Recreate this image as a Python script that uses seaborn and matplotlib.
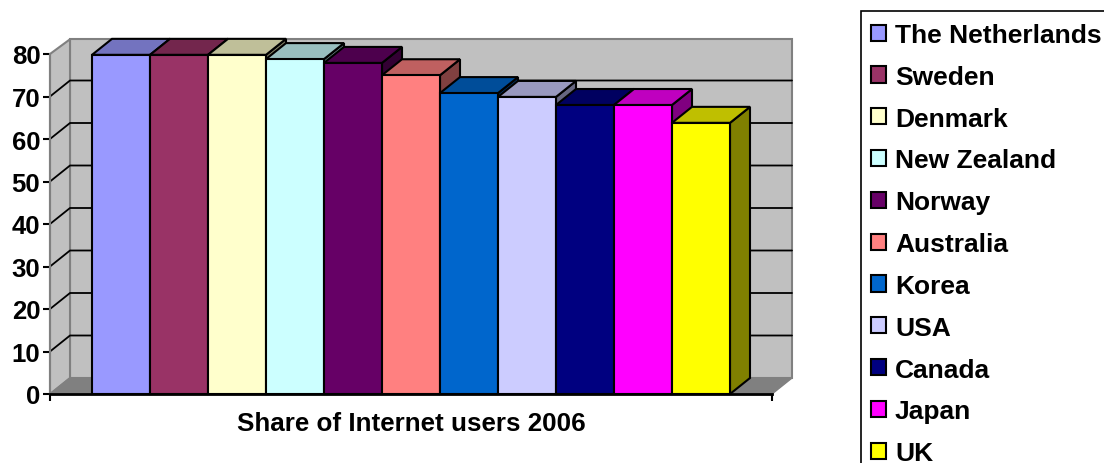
# -*- coding: utf-8 -*-
"""Share of Internet users 2006 - Excel style 3D column chart, drawn with seaborn bars"""
import matplotlib
matplotlib.use("Agg")
import matplotlib.pyplot as plt
from matplotlib.colors import to_rgb
from matplotlib.patches import Polygon, Rectangle
import pandas as pd
import seaborn as sns

countries = ["The Netherlands", "Sweden", "Denmark", "New Zealand", "Norway", "Australia",
             "Korea", "USA", "Canada", "Japan", "UK"]
share = [79.8, 79.8, 79.8, 78.8, 77.9, 75.0, 70.8, 69.9, 68.0, 68.0, 63.8]
colors = ["#9999FF", "#993366", "#FFFFCC", "#CCFFFF", "#660066", "#FF8080",
          "#0066CC", "#CCCCFF", "#000080", "#FF00FF", "#FFFF00"]
y_ticks = [0, 10, 20, 30, 40, 50, 60, 70, 80]
x_title = "Share of Internet users 2006"

sns.set_theme(style="white")
plt.rcParams["font.family"] = ["Liberation Sans", "DejaVu Sans"]
W, H = 1104, 464
WALL, FLOOR = "#C0C0C0", "#808080"

fig = plt.figure(figsize=(W / 100, H / 100), dpi=100)
ax = fig.add_axes([50 / W, (H - 395) / H, 722 / W, 340 / H])

df = pd.DataFrame({"country": countries, "share": share})
sns.barplot(data=df, x="country", y="share", hue="country", palette=colors, dodge=False,
            width=1.0, saturation=1, edgecolor="black", linewidth=1.5, legend=True, ax=ax)

x0, x1 = -0.5 - 42 / 58, 10.5 + 42 / 58
ax.set_xlim(x0, x1)
ax.set_ylim(0, 80)
# depth of the fake 3D box, in data units (20 px across, 16 px up)
dx, dy = 20 / 58, 16 / 4.25
wall_top = 79.7

# walls and floor
ax.add_patch(Polygon([(x0 + dx, dy), (x1 + dx, dy), (x1 + dx, wall_top + dy), (x0 + dx, wall_top + dy)],
                     fc=WALL, ec=FLOOR, lw=1.5, clip_on=False, zorder=0.1))
ax.add_patch(Polygon([(x0, 0), (x0 + dx, dy), (x0 + dx, wall_top + dy), (x0, 80)],
                     fc=WALL, ec=FLOOR, lw=1.5, clip_on=False, zorder=0.2))
ax.add_patch(Polygon([(x0, 0), (x1, 0), (x1 + dx, dy), (x0 + dx, dy)],
                     fc=FLOOR, ec=FLOOR, lw=1, clip_on=False, zorder=0.2))
for t in y_ticks[1:-1]:
    ax.plot([x0, x0 + dx, x1 + dx], [t, t + dy, t + dy], color="black", lw=1.3,
            clip_on=False, zorder=0.3)

# side and top of each column, painted left to right
for i, cont in enumerate(ax.containers):
    bar = cont[0]
    left, right, top = bar.get_x(), bar.get_x() + bar.get_width(), bar.get_height()
    rgb = to_rgb(colors[i])
    z = 2 + i
    ax.add_patch(Polygon([(right, 0), (right + dx, dy), (right + dx, top + dy), (right, top)],
                         fc=[c * 0.5 for c in rgb], ec="black", lw=1.5, clip_on=False, zorder=z))
    ax.add_patch(Polygon([(left, top), (right, top), (right + dx, top + dy), (left + dx, top + dy)],
                         fc=[c * 0.75 for c in rgb], ec="black", lw=1.5, clip_on=False, zorder=z))
    bar.set_zorder(z + 0.5)
    bar.set_clip_on(False)

for side in ["top", "right"]:
    ax.spines[side].set_visible(False)
ax.spines["left"].set_color(FLOOR)
ax.spines["left"].set_linewidth(1.5)
ax.spines["left"].set_zorder(1)
ax.spines["bottom"].set_color("black")
ax.spines["bottom"].set_linewidth(2)
ax.spines["bottom"].set_zorder(30)

ax.set_xticks([x0, x1], ["", ""])
ax.set_yticks(y_ticks)
ax.tick_params(axis="both", which="major", left=True, bottom=True, length=5, width=1.5,
               color="black", pad=2)
ax.tick_params(axis="y", labelsize=18.5, labelcolor="black")
for lab in ax.get_yticklabels():
    lab.set_fontweight("bold")
ax.set_ylabel("")
ax.set_xlabel(x_title, fontsize=18.7, fontweight="bold", color="black", labelpad=5)

# legend box runs off the right and bottom of the picture, as in the source
fig.add_artist(Rectangle((861 / W, -0.1), 0.5, (H - 12) / H + 0.1, transform=fig.transFigure,
                         fc="white", ec="black", lw=1.2))
handles, labels = ax.get_legend_handles_labels()
ax.get_legend().remove()
leg = fig.legend(handles, labels, loc="upper left", bbox_to_anchor=(871 / W, (H - 24) / H),
                 bbox_transform=fig.transFigure, borderaxespad=0, borderpad=0,
                 prop={"family": "Liberation Sans", "weight": "bold", "size": 19},
                 handlelength=0.57, handleheight=0.57, handletextpad=0.34, labelspacing=0.675,
                 frameon=False, labelcolor="black")

fig.savefig("out.png", dpi=100)
